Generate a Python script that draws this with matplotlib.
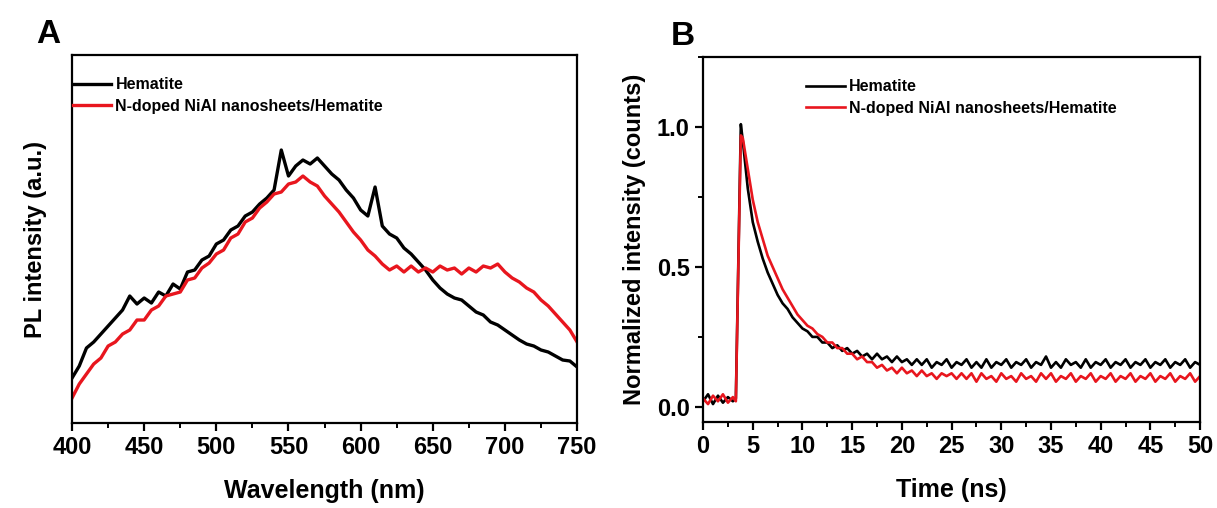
#PL spectra (A) and time-resolved PL decay (B), hematite vs N-doped NiAl/hematite

import matplotlib
matplotlib.use("Agg")
import matplotlib.pyplot as plt
from matplotlib.ticker import MultipleLocator

plt.rcParams["font.family"] = ["Liberation Sans", "DejaVu Sans"]
plt.rcParams["font.weight"] = "bold"

#labels
labels = ["Hematite", "N-doped NiAl nanosheets/Hematite"]
colors = ["#000000", "#e8161e"]

#panel A, wavelength (nm) and PL intensity (a.u.)
wavelength = [400, 405, 410, 415, 420, 425, 430, 435, 440, 445,
              450, 455, 460, 465, 470, 475, 480, 485, 490, 495,
              500, 505, 510, 515, 520, 525, 530, 535, 540, 545,
              550, 555, 560, 565, 570, 575, 580, 585, 590, 595,
              600, 605, 610, 615, 620, 625, 630, 635, 640, 645,
              650, 655, 660, 665, 670, 675, 680, 685, 690, 695,
              700, 705, 710, 715, 720, 725, 730, 735, 740, 745, 750]

pl_hematite = [45, 57, 75, 81, 89, 97, 105, 113, 127, 119,
               125, 120, 131, 127, 139, 134, 151, 153, 163, 167,
               179, 183, 193, 197, 207, 211, 219, 225, 233, 273,
               247, 257, 263, 259, 265, 257, 249, 243, 233, 225,
               213, 207, 236, 197, 189, 185, 175, 169, 161, 153,
               143, 135, 129, 125, 123, 117, 111, 108, 101, 98,
               93, 88, 83, 79, 77, 73, 71, 67, 63, 62, 56]

pl_ndoped = [25, 39, 49, 59, 65, 77, 81, 89, 93, 103,
             103, 113, 117, 127, 129, 131, 143, 145, 155, 160,
             169, 173, 185, 189, 201, 205, 215, 221, 229, 231,
             239, 241, 247, 241, 237, 227, 219, 211, 201, 191,
             183, 173, 167, 159, 153, 157, 151, 157, 151, 155,
             151, 157, 153, 155, 149, 155, 151, 157, 155, 159,
             151, 145, 141, 135, 131, 123, 117, 109, 101, 93, 81]

#panel B, time (ns) and normalized intensity
time_ns = [0, 0.5, 1, 1.5, 2, 2.5, 3, 3.3, 3.6, 3.8, 4, 4.5, 5, 5.5, 6, 6.5,
           7, 7.5, 8, 8.5, 9, 9.5,
           10, 10.5, 11, 11.5, 12, 12.5, 13, 13.5, 14, 14.5,
           15, 15.5, 16, 16.5, 17, 17.5, 18, 18.5, 19, 19.5,
           20, 20.5, 21, 21.5, 22, 22.5, 23, 23.5, 24, 24.5,
           25, 25.5, 26, 26.5, 27, 27.5, 28, 28.5, 29, 29.5,
           30, 30.5, 31, 31.5, 32, 32.5, 33, 33.5, 34, 34.5,
           35, 35.5, 36, 36.5, 37, 37.5, 38, 38.5, 39, 39.5,
           40, 40.5, 41, 41.5, 42, 42.5, 43, 43.5, 44, 44.5,
           45, 45.5, 46, 46.5, 47, 47.5, 48, 48.5, 49, 49.5, 50]

decay_hematite = [0.02, 0.045, 0.01, 0.04, 0.015, 0.035, 0.02, 0.03, 0.62, 1.01, 0.95,
                  0.78, 0.66, 0.59, 0.53, 0.48, 0.44, 0.40, 0.37, 0.35, 0.32, 0.30,
                  0.28, 0.27, 0.25, 0.25, 0.23, 0.23, 0.21, 0.22, 0.20, 0.21,
                  0.19, 0.20, 0.18, 0.19, 0.17, 0.19, 0.17, 0.18, 0.16, 0.18,
                  0.16, 0.17, 0.15, 0.17, 0.15, 0.17, 0.14, 0.16, 0.15, 0.17,
                  0.14, 0.16, 0.15, 0.17, 0.14, 0.16, 0.14, 0.17, 0.14, 0.16,
                  0.15, 0.17, 0.14, 0.16, 0.15, 0.17, 0.14, 0.16, 0.15, 0.18,
                  0.14, 0.16, 0.14, 0.17, 0.15, 0.16, 0.14, 0.17, 0.14, 0.16,
                  0.15, 0.17, 0.14, 0.16, 0.15, 0.17, 0.14, 0.16, 0.15, 0.17,
                  0.14, 0.16, 0.15, 0.17, 0.14, 0.16, 0.15, 0.17, 0.14, 0.16, 0.15]

decay_ndoped = [0.03, 0.01, 0.04, 0.02, 0.045, 0.015, 0.035, 0.02, 0.60, 0.97, 0.96,
                0.85, 0.74, 0.66, 0.60, 0.54, 0.50, 0.46, 0.42, 0.39, 0.36, 0.33,
                0.31, 0.29, 0.28, 0.26, 0.25, 0.23, 0.23, 0.21, 0.21, 0.19,
                0.19, 0.17, 0.18, 0.16, 0.16, 0.14, 0.15, 0.13, 0.14, 0.12,
                0.14, 0.12, 0.13, 0.11, 0.13, 0.11, 0.12, 0.10, 0.12, 0.11,
                0.12, 0.10, 0.12, 0.10, 0.12, 0.09, 0.12, 0.10, 0.11, 0.09,
                0.12, 0.10, 0.11, 0.09, 0.12, 0.10, 0.11, 0.09, 0.12, 0.10,
                0.12, 0.09, 0.11, 0.10, 0.12, 0.09, 0.11, 0.10, 0.12, 0.09,
                0.11, 0.10, 0.12, 0.09, 0.11, 0.10, 0.12, 0.09, 0.11, 0.10,
                0.12, 0.09, 0.11, 0.10, 0.12, 0.09, 0.11, 0.10, 0.12, 0.09, 0.11]


def style_axes(ax):
    for sp in ax.spines.values():
        sp.set_linewidth(1.6)
    ax.tick_params(which="major", direction="out", length=6, width=1.6,
                   labelsize=17, top=False, right=False)
    ax.tick_params(which="minor", direction="out", length=3.5, width=1.4,
                   top=False, right=False)


fig = plt.figure(figsize=(12.17, 5.08), dpi=100)

#panel A
axA = fig.add_axes([0.0592, 0.1673, 0.415, 0.7244])
axA.plot(wavelength, pl_hematite, color=colors[0], lw=2.4, label=labels[0])
axA.plot(wavelength, pl_ndoped, color=colors[1], lw=2.4, label=labels[1])
axA.set_xlim(400, 750)
axA.set_ylim(0, 368)
axA.xaxis.set_major_locator(MultipleLocator(50))
axA.xaxis.set_minor_locator(MultipleLocator(25))
axA.set_yticks([])
style_axes(axA)
axA.set_xlabel("Wavelength (nm)", fontsize=18, fontweight="bold", labelpad=14)
axA.set_ylabel("PL intensity (a.u.)", fontsize=17, fontweight="bold", labelpad=18)
axA.legend(loc="upper left", bbox_to_anchor=(-0.02, 0.97), frameon=False,
           fontsize=11.5, handlelength=2.4, handletextpad=0.25, labelspacing=0.4,
           borderaxespad=0.3)
fig.text(0.030, 0.915, "A", fontsize=24, fontweight="bold")

#panel B
axB = fig.add_axes([0.5777, 0.1693, 0.4084, 0.7185])
axB.plot(time_ns, decay_hematite, color=colors[0], lw=1.9, label=labels[0])
axB.plot(time_ns, decay_ndoped, color=colors[1], lw=1.9, label=labels[1])
axB.set_xlim(0, 50)
axB.set_ylim(-0.054, 1.25)
axB.xaxis.set_major_locator(MultipleLocator(5))
axB.xaxis.set_minor_locator(MultipleLocator(2.5))
axB.yaxis.set_major_locator(MultipleLocator(0.5))
axB.yaxis.set_minor_locator(MultipleLocator(0.25))
style_axes(axB)
axB.set_xlabel("Time (ns)", fontsize=18, fontweight="bold", labelpad=14)
axB.set_ylabel("Normalized intensity (counts)", fontsize=17, fontweight="bold", labelpad=8)
axB.legend(loc="upper left", bbox_to_anchor=(0.185, 0.97), frameon=False,
           fontsize=11.5, handlelength=2.4, handletextpad=0.25, labelspacing=0.4,
           borderaxespad=0.3)
fig.text(0.551, 0.911, "B", fontsize=24, fontweight="bold")

fig.savefig("out.png", dpi=100)
